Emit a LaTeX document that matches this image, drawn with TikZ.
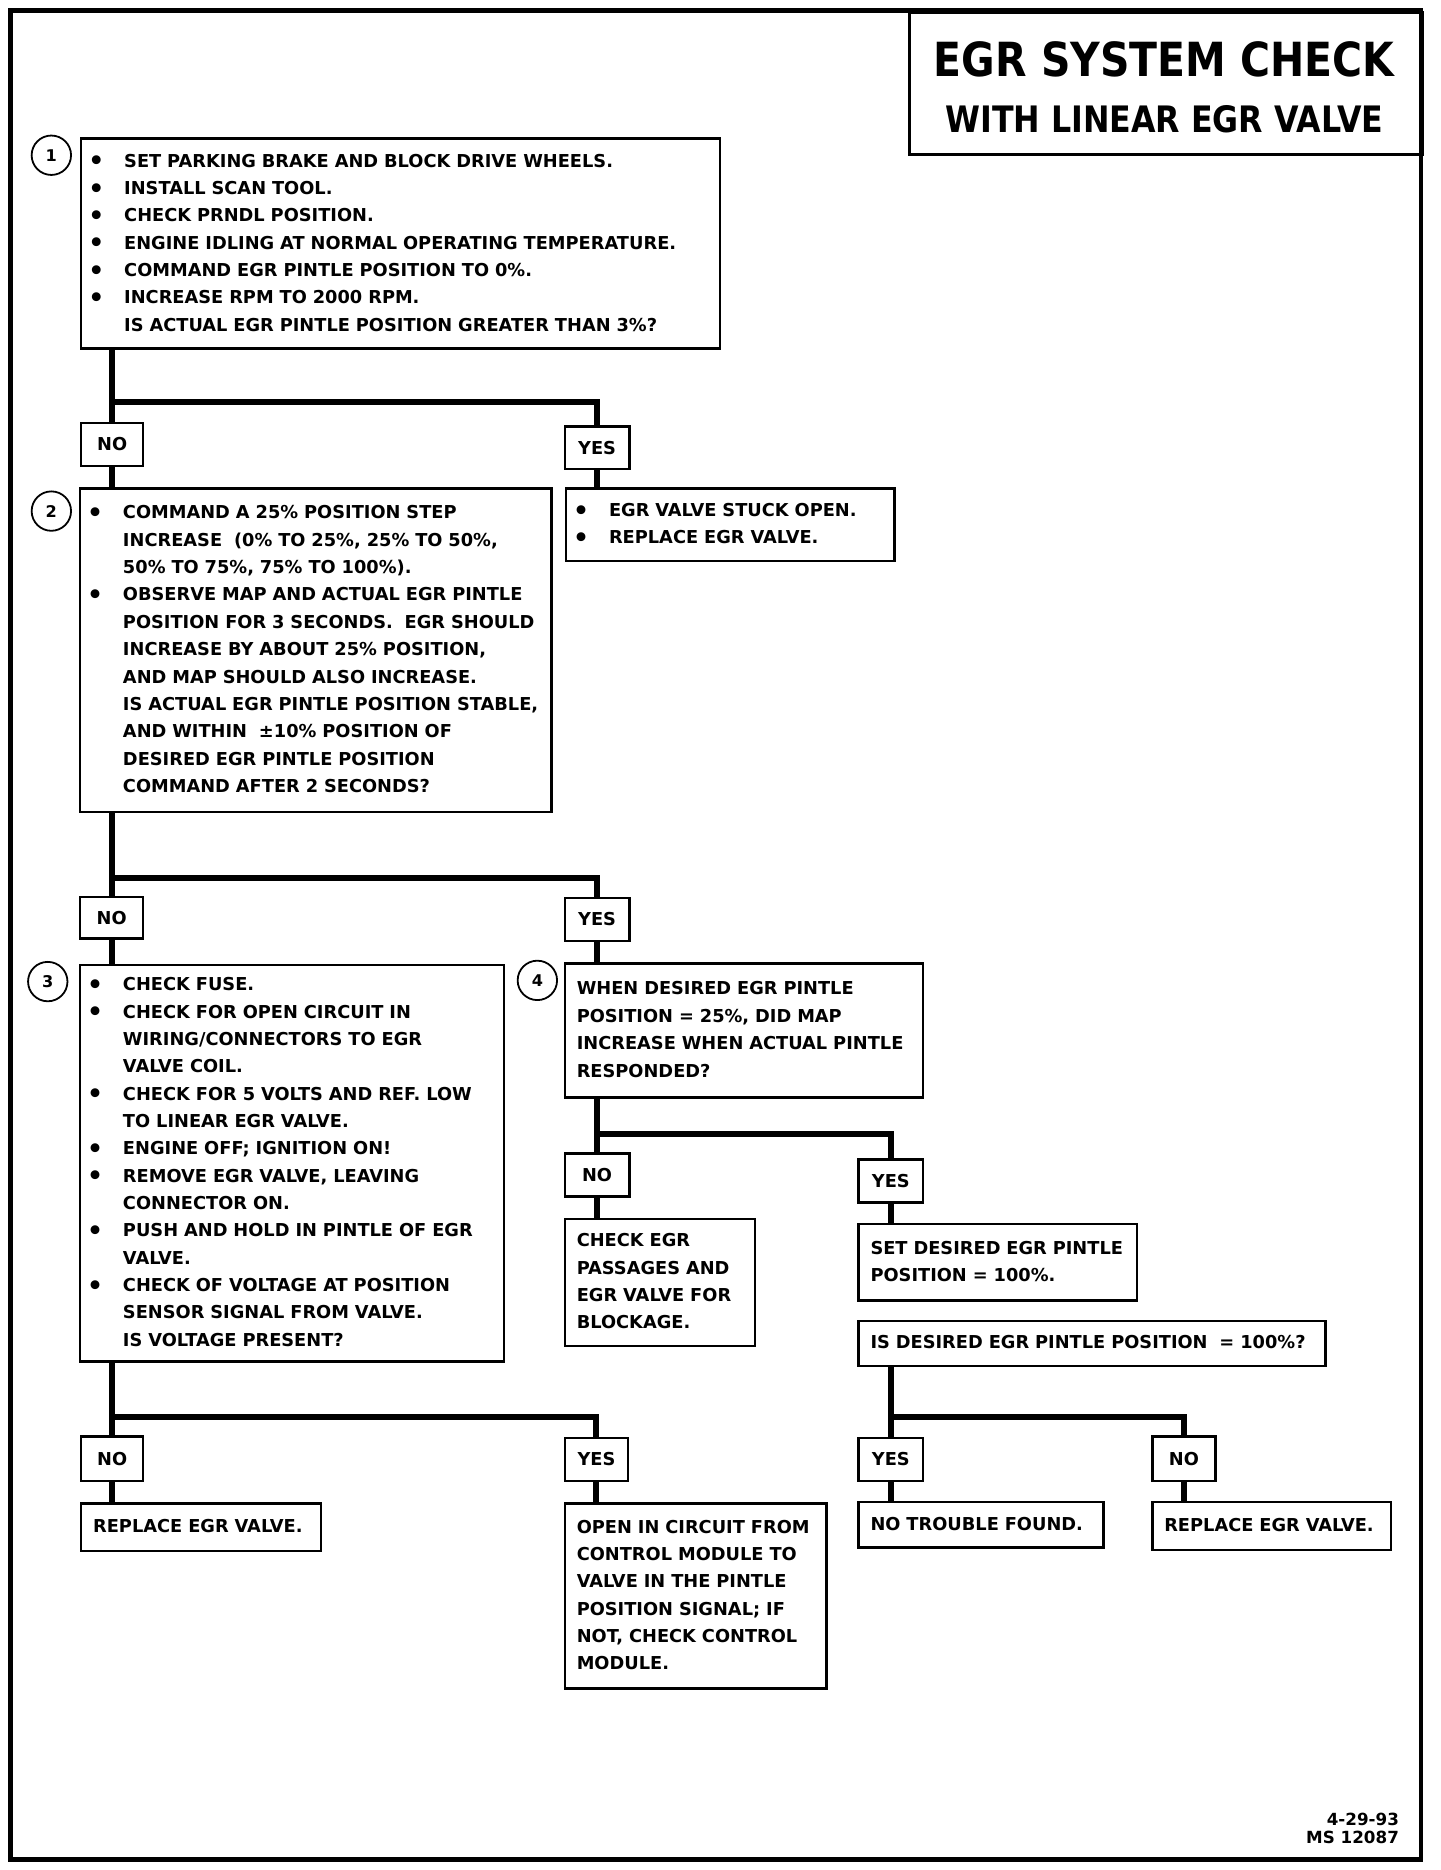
\documentclass[tikz,border=0pt]{standalone}
\usepackage{fontspec}
\setmainfont{DejaVu Sans}
\newfontfamily\titlefont{DejaVu Sans}[FakeStretch=0.87]
\newcommand{\bodyfont}{\fontsize{14.9}{22.9}\selectfont\bfseries}
\newcommand{\bul}{\makebox[26pt][l]{\hspace*{-4pt}\raisebox{-2.2pt}{\fontsize{21}{21}\selectfont •}}}
\newcommand{\ind}{\hspace*{26pt}}
\newcommand{\rows}[1]{\begin{tabular}{@{}l@{}}#1\end{tabular}}
\begin{document}
\begin{tikzpicture}[x=1pt,y=-1pt,
    box/.style={draw,line width=2pt,anchor=north west,inner xsep=10pt,inner ysep=0pt,align=left,font=\bodyfont},
    lab/.style={draw,line width=2pt,anchor=north west,inner sep=0pt,font=\bodyfont},
    num/.style={draw,circle,line width=1.5pt,minimum size=33pt,inner sep=0pt,font=\fontsize{13.5}{13.5}\selectfont\bfseries},
    conn/.style={line width=5pt}]
    \useasboundingbox (0,0) rectangle (1206,1566);

    % Drawing frame
    \draw [line width=4pt] (9,9) rectangle (1190,1557);%

    % Drawing title
    \node [draw,line width=2.5pt,anchor=north west,minimum width=430pt,minimum height=119pt,inner sep=0pt] (title) at (760,9) {};%
    \node [font=\fontsize{39.4}{40}\titlefont\bfseries] (t1) at (975,50) {EGR SYSTEM CHECK};%
    \node [font=\fontsize{30.5}{31}\titlefont\bfseries] (t2) at (975,100) {WITH LINEAR EGR VALVE};%

    % Drawing step 1
    \node [num] (n1) at (43,130) {1};%
    \node [box,text width=515pt,minimum height=176pt] (q1) at (67,115) {\rows{%
        \bul SET PARKING BRAKE AND BLOCK DRIVE WHEELS.\\
        \bul INSTALL SCAN TOOL.\\
        \bul CHECK PRNDL POSITION.\\
        \bul ENGINE IDLING AT NORMAL OPERATING TEMPERATURE.\\
        \bul COMMAND EGR PINTLE POSITION TO 0\%.\\
        \bul INCREASE RPM TO 2000 RPM.\\
        \ind IS ACTUAL EGR PINTLE POSITION GREATER THAN 3\%?}};%
    \node [lab,minimum width=52pt,minimum height=36pt] (no1) at (67,353) {NO};%
    \node [lab,minimum width=54pt,minimum height=36pt] (yes1) at (472,356) {YES};%
    \node [box,text width=255pt,minimum height=61pt] (r1) at (473,408) {\rows{%
        \bul EGR VALVE STUCK OPEN.\\
        \bul REPLACE EGR VALVE.}};%

    % Drawing step 2
    \node [num] (n2) at (43,428) {2};%
    \node [box,text width=375pt,minimum height=271pt] (q2) at (66,408) {\rows{%
        \bul COMMAND A 25\% POSITION STEP\\
        \ind INCREASE\ \ (0\% TO 25\%, 25\% TO 50\%,\\
        \ind 50\% TO 75\%, 75\% TO 100\%).\\
        \bul OBSERVE MAP AND ACTUAL EGR PINTLE\\
        \ind POSITION FOR 3 SECONDS.\ \ EGR SHOULD\\
        \ind INCREASE BY ABOUT 25\% POSITION,\\
        \ind AND MAP SHOULD ALSO INCREASE.\\
        \ind IS ACTUAL EGR PINTLE POSITION STABLE,\\
        \ind AND WITHIN\ \ ±10\% POSITION OF\\
        \ind DESIRED EGR PINTLE POSITION\\
        \ind COMMAND AFTER 2 SECONDS?}};%
    \node [lab,minimum width=53pt,minimum height=35pt] (no2) at (66,750) {NO};%
    \node [lab,minimum width=54pt,minimum height=36pt] (yes2) at (472,751) {YES};%

    % Drawing step 3
    \node [num] (n3) at (40,822) {3};%
    \node [box,text width=335pt,minimum height=332pt] (q3) at (66,807) {\rows{%
        \bul CHECK FUSE.\\
        \bul CHECK FOR OPEN CIRCUIT IN\\
        \ind WIRING/CONNECTORS TO EGR\\
        \ind VALVE COIL.\\
        \bul CHECK FOR 5 VOLTS AND REF. LOW\\
        \ind TO LINEAR EGR VALVE.\\
        \bul ENGINE OFF; IGNITION ON!\\
        \bul REMOVE EGR VALVE, LEAVING\\
        \ind CONNECTOR ON.\\
        \bul PUSH AND HOLD IN PINTLE OF EGR\\
        \ind VALVE.\\
        \bul CHECK OF VOLTAGE AT POSITION\\
        \ind SENSOR SIGNAL FROM VALVE.\\
        \ind IS VOLTAGE PRESENT?}};%
    \node [lab,minimum width=52pt,minimum height=37pt] (no3) at (67,1202) {NO};%
    \node [lab,minimum width=53pt,minimum height=36pt] (yes3) at (472,1203) {YES};%
    \node [box,text width=181pt,minimum height=40pt] (r3) at (67,1258) {\rows{REPLACE EGR VALVE.}};%
    \node [box,text width=199pt,minimum height=155pt] (r5) at (472,1258) {\rows{%
        OPEN IN CIRCUIT FROM\\
        CONTROL MODULE TO\\
        VALVE IN THE PINTLE\\
        POSITION SIGNAL; IF\\
        NOT, CHECK CONTROL\\
        MODULE.}};%

    % Drawing step 4
    \node [num] (n4) at (450,821) {4};%
    \node [box,text width=280pt,minimum height=112pt] (q4) at (472,806) {\rows{%
        WHEN DESIRED EGR PINTLE\\
        POSITION = 25\%, DID MAP\\
        INCREASE WHEN ACTUAL PINTLE\\
        RESPONDED?}};%
    \node [lab,minimum width=54pt,minimum height=36pt] (no4) at (472,965) {NO};%
    \node [lab,minimum width=54pt,minimum height=36pt] (yes4) at (718,970) {YES};%
    \node [box,text width=139pt,minimum height=106pt] (r4) at (472,1020) {\rows{%
        CHECK EGR\\
        PASSAGES AND\\
        EGR VALVE FOR\\
        BLOCKAGE.}};%
    \node [box,text width=213pt,minimum height=64pt] (s4) at (718,1024) {\rows{%
        SET DESIRED EGR PINTLE\\
        POSITION = 100\%.}};%
    \node [box,text width=371pt,minimum height=38pt] (q5) at (718,1105) {\rows{IS DESIRED EGR PINTLE POSITION\ \ = 100\%?}};%
    \node [lab,minimum width=54pt,minimum height=36pt] (yes5) at (718,1203) {YES};%
    \node [lab,minimum width=53pt,minimum height=37pt] (no5) at (964,1202) {NO};%
    \node [box,text width=185pt,minimum height=38pt] (r6) at (718,1257) {\rows{NO TROUBLE FOUND.}};%
    \node [box,text width=180pt,minimum height=40pt] (r7) at (964,1257) {\rows{REPLACE EGR VALVE.}};%

    % Marking date
    \node [anchor=east,align=right,font=\fontsize{14}{15.5}\selectfont\bfseries] (date) at (1175,1531) {4-29-93\\MS 12087};%

    % Drawing branch points
    \coordinate (j1) at (0,337);
    \coordinate (j2) at (0,735);
    \coordinate (j3) at (0,1187);
    \coordinate (j4) at (0,950);

    % Drawing connectors of step 1
    \draw [conn] (q1.south -| no1) -- (no1.north);%
    \draw [conn] (no1 |- j1) -| (yes1.north);%
    \draw [conn] (no1.south) -- (no1.south |- q2.north);%
    \draw [conn] (yes1.south) -- (yes1.south |- r1.north);%

    % Drawing connectors of step 2
    \draw [conn] (q2.south -| no2) -- (no2.north);%
    \draw [conn] (no2 |- j2) -| (yes2.north);%
    \draw [conn] (no2.south) -- (no2.south |- q3.north);%
    \draw [conn] (yes2.south) -- (yes2.south |- q4.north);%

    % Drawing connectors of step 3
    \draw [conn] (q3.south -| no3) -- (no3.north);%
    \draw [conn] (no3 |- j3) -| (yes3.north);%
    \draw [conn] (no3.south) -- (no3.south |- r3.north);%
    \draw [conn] (yes3.south) -- (yes3.south |- r5.north);%

    % Drawing connectors of step 4
    \draw [conn] (q4.south -| no4) -- (no4.north);%
    \draw [conn] (no4 |- j4) -| (yes4.north);%
    \draw [conn] (no4.south) -- (no4.south |- r4.north);%
    \draw [conn] (yes4.south) -- (yes4.south |- s4.north);%
    \draw [conn] (s4.south -| yes4) -- (s4.south -| yes4 |- q5.north);%
    \draw [conn] (q5.south -| yes5) -- (yes5.north);%
    \draw [conn] (yes5 |- j3) -| (no5.north);%
    \draw [conn] (yes5.south) -- (yes5.south |- r6.north);%
    \draw [conn] (no5.south) -- (no5.south |- r7.north);%
\end{tikzpicture}
\end{document}
